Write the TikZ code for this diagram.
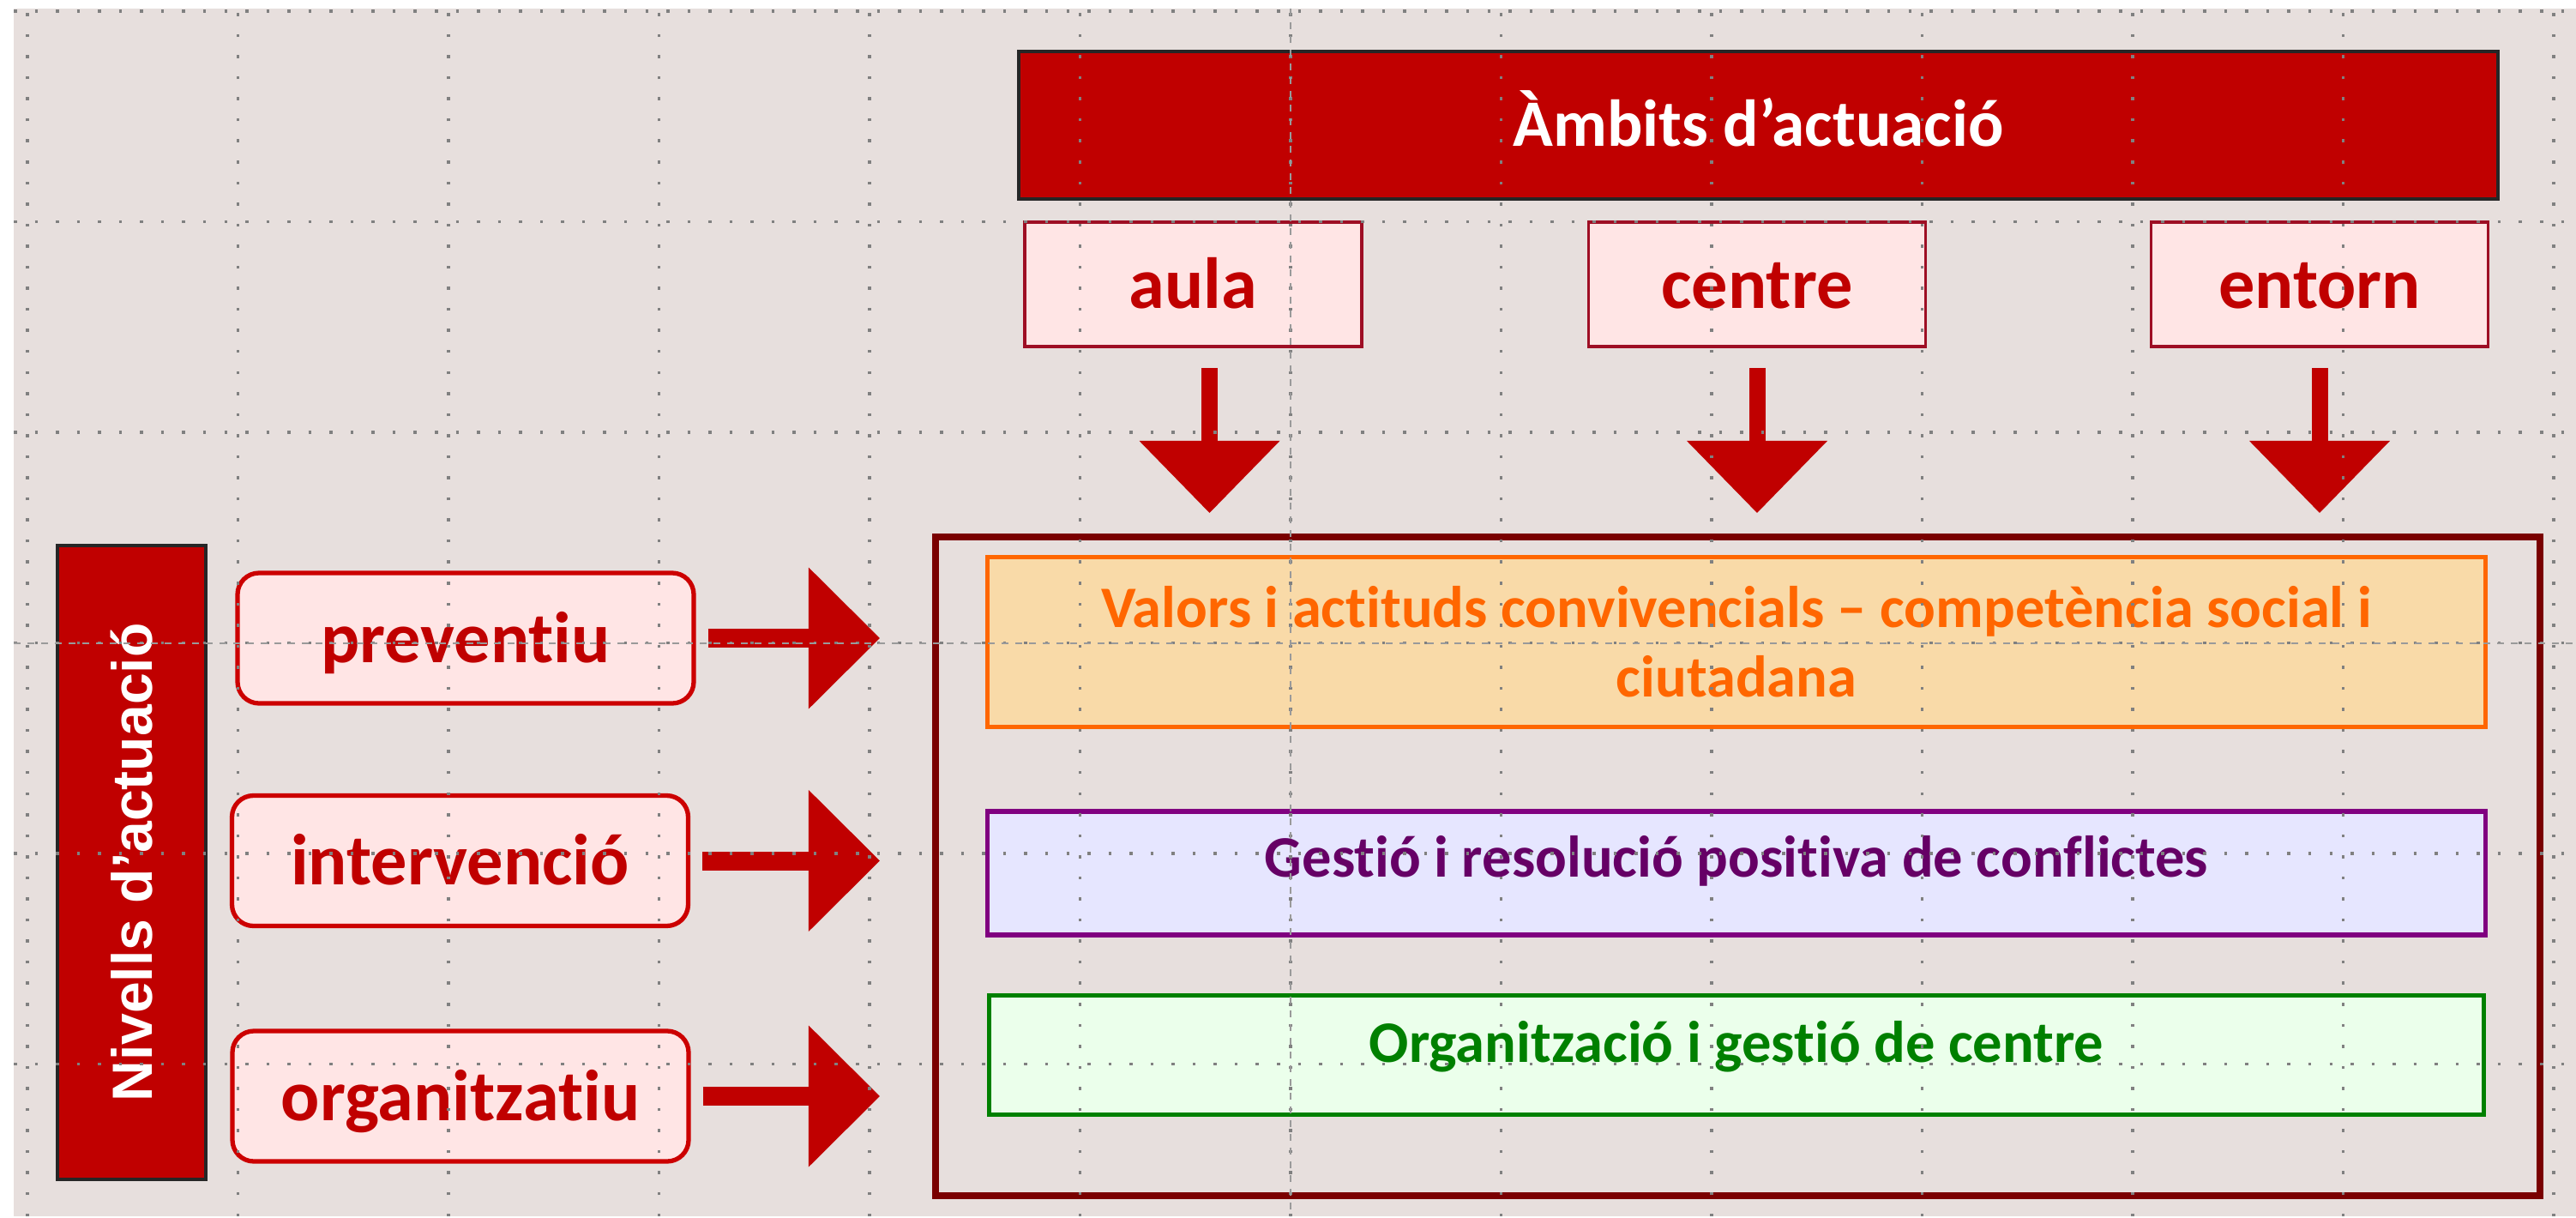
\documentclass[tikz,border=0pt]{standalone}
\usepackage{fontspec}
\setmainfont{Carlito}[Ligatures=NoCommon]
\newfontfamily\arialfont{Liberation Sans}
\usetikzlibrary{arrows.meta}
\definecolor{mainred}{HTML}{C00000}
\definecolor{palered}{HTML}{FFE5E5}
\definecolor{ambitline}{HTML}{9E0E24}
\definecolor{nivellline}{HTML}{CC0000}
\definecolor{framered}{HTML}{7A0000}
\definecolor{valorsfill}{HTML}{F9DAA8}
\definecolor{valorsline}{HTML}{FF6600}
\definecolor{gestiofill}{HTML}{E6E6FF}
\definecolor{gestioline}{HTML}{800080}
\definecolor{gestiotext}{HTML}{660066}
\definecolor{orgfill}{HTML}{EBFFEB}
\definecolor{orgline}{HTML}{008000}
\definecolor{bgpink}{HTML}{E7DFDD}
\definecolor{gridgrey}{HTML}{808080}
\definecolor{guidegrey}{HTML}{9A9A9A}

\begin{document}
\begin{tikzpicture}[
    titlebar/.style={fill=mainred, draw=black!85, line width=1pt, text=white, inner sep=0pt,
      font=\bfseries\fontsize{22}{26}\selectfont, text height=14pt, text depth=0pt},
    ambit/.style={draw=ambitline, line width=1.1pt, fill=palered, minimum width=3.93cm,
      minimum height=1.45cm, text=mainred, inner sep=0pt,
      font=\bfseries\fontsize{24}{29}\selectfont, text height=16pt, text depth=0pt},
    nivell/.style={draw=nivellline, line width=1.5pt, fill=palered, rounded corners=0.25cm,
      minimum width=5.32cm, minimum height=1.52cm, text=mainred, inner sep=0pt,
      font=\bfseries\fontsize{24}{29}\selectfont, text height=16pt, text depth=0pt},
    area/.style={line width=1.45pt, minimum width=17.47cm, inner sep=0pt,
      font=\bfseries\fontsize{19.5}{23}\selectfont},
    bigdown/.style={mainred, line width=0.19cm, shorten <=0.23cm, shorten >=0.24cm,
      -{Triangle[width=1.64cm, length=0.84cm, line width=0pt]}},
    bigright/.style={mainred, line width=0.22cm, shorten <=0.14cm, shorten >=0.61cm,
      -{Triangle[width=1.65cm, length=0.83cm, line width=0pt]}},
    gridline/.style={gridgrey, line width=0.35mm, dash pattern=on 0.35mm off 2.105mm},
    guide/.style={guidegrey, line width=0.2mm, dash pattern=on 0.8mm off 0.8mm}
  ]
  \useasboundingbox (0,0) rectangle (30.04,-14.20);
  \fill[bgpink] (0.16,-0.10) rectangle (30.04,-14.18);

  % ambits
  \node[titlebar, minimum width=17.25cm, minimum height=1.72cm] (ambits) at (20.505,-1.46) {Àmbits d’actuació};
  \node[ambit] (aula) at (13.915,-3.315) {aula};
  \node[ambit] (centre) at (20.49,-3.315) {centre};
  \node[ambit] (entorn) at (27.05,-3.315) {entorn};

  % marc central
  \node[draw=framered, line width=2.3pt, minimum width=18.71cm, minimum height=7.68cm] (frame) at (20.265,-10.10) {};
  \node[area, fill=valorsfill, draw=valorsline, text=valorsline, minimum height=1.98cm, align=center] (valors) at (20.25,-7.485)
    {Valors i actituds convivencials – competència social i\\ciutadana};
  \node[area, fill=gestiofill, draw=gestioline, text=gestiotext, minimum height=1.44cm, text height=12pt, text depth=9.4pt] (gestio) at (20.25,-10.18)
    {Gestió i resolució positiva de conflictes};
  \node[area, fill=orgfill, draw=orgline, text=orgline, minimum height=1.39cm, minimum width=17.43cm, text height=12pt, text depth=7.4pt] (organitz) at (20.25,-12.30)
    {Organització i gestió de centre};

  % nivells
  \node[titlebar, rotate=90, minimum width=7.39cm, minimum height=1.73cm,
    font=\arialfont\bfseries\fontsize{18.8}{22}\selectfont, text height=13.5pt] (nivells) at (1.535,-10.055) {Nivells d’actuació};
  \node[nivell] (preventiu) at (5.43,-7.44) {preventiu};
  \node[nivell] (intervencio) at (5.365,-10.035) {intervenció};
  \node[nivell] (organitzatiu) at (5.37,-12.78) {organitzatiu};

  \draw[bigdown] ([xshift=0.19cm]aula.south) -- ([xshift=0.19cm]aula.south |- frame.north);
  \draw[bigdown] (centre.south) -- (centre.south |- frame.north);
  \draw[bigdown] (entorn.south) -- (entorn.south |- frame.north);
  \draw[bigright] (preventiu.east) -- (preventiu.east -| frame.west);
  \draw[bigright] (intervencio.east) -- (intervencio.east -| frame.west);
  \draw[bigright] (organitzatiu.east) -- (organitzatiu.east -| frame.west);

  % graella
  \draw[gridline, shift={(0.32,-0.13)}] (-0.16,-14.05) grid[step=2.455] (29.72,0.03);
  \draw[guide] (15.05,-0.10) -- (15.05,-14.18);
  \draw[guide] (0.16,-7.495) -- (30.04,-7.495);
\end{tikzpicture}
\end{document}
